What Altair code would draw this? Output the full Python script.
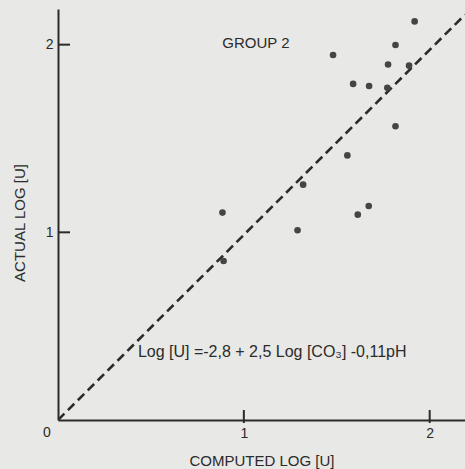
import altair as alt
import pandas as pd

# computed log [U] (x) vs actual log [U] (y)
computed = [1.919, 1.816, 1.480, 1.776, 1.889, 1.588, 1.674, 1.772,
            1.816, 1.557, 1.319, 0.885, 1.672, 1.613, 1.289, 0.891]
actual = [2.124, 1.998, 1.945, 1.894, 1.888, 1.791, 1.780, 1.770,
          1.565, 1.410, 1.254, 1.105, 1.140, 1.094, 1.011, 0.847]

line_x = [0.0, 2.19]
line_y = [0.0, 2.16]

tick_values = [1, 2]

group_label = "GROUP 2"
equation = "Log [U] =-2,8 + 2,5  Log [CO₃] -0,11pH"

W, H = 407, 411
FONT = "Liberation Sans"
INK = "#2b2b2b"

pts = pd.DataFrame({"x": computed, "y": actual})
line_df = pd.DataFrame({"x": line_x, "y": line_y})
ticks_df = pd.DataFrame({"v": tick_values})

xs = alt.Scale(domain=[0, 2.19], nice=False, zero=False)
ys = alt.Scale(domain=[0, 2.19], nice=False, zero=False)

xaxis = alt.Axis(values=tick_values, format="d", ticks=False, grid=False,
                 domainColor=INK, domainWidth=2, labelFont=FONT, labelFontSize=14,
                 labelColor=INK, labelPadding=6, title="COMPUTED LOG [U]",
                 titleFont=FONT, titleFontSize=15, titleFontWeight="normal",
                 titleColor=INK, titleX=W / 2, titleY=40, titleBaseline="middle")
yaxis = alt.Axis(values=tick_values, format="d", ticks=False, grid=False,
                 domainColor=INK, domainWidth=2, labelFont=FONT, labelFontSize=14,
                 labelColor=INK, labelPadding=5, title="ACTUAL LOG [U]",
                 titleFont=FONT, titleFontSize=15, titleFontWeight="normal",
                 titleColor=INK, titleX=-39, titleY=H / 2 + 8, titleBaseline="middle")

points = alt.Chart(pts).mark_point(filled=True, size=44, color="#454545", opacity=1).encode(
    x=alt.X("x:Q", scale=xs, axis=xaxis),
    y=alt.Y("y:Q", scale=ys, axis=yaxis),
)

dashed = alt.Chart(line_df).mark_line(color=INK, strokeWidth=2.6, strokeDash=[9, 5], clip=True).encode(
    x=alt.X("x:Q", scale=xs),
    y=alt.Y("y:Q", scale=ys),
)

yticks = alt.Chart(ticks_df).mark_rule(color=INK, strokeWidth=2).encode(
    y=alt.Y("v:Q", scale=ys),
    x=alt.value(0),
    x2=alt.value(12),
)
xticks = alt.Chart(ticks_df).mark_rule(color=INK, strokeWidth=2).encode(
    x=alt.X("v:Q", scale=xs),
    y=alt.value(H - 10),
    y2=alt.value(H + 3),
)

zero_label = alt.Chart(pd.DataFrame({"x": [0], "y": [0], "t": ["0"]})).mark_text(
    font=FONT, fontSize=14, color=INK, dx=-11, dy=13, baseline="middle"
).encode(x=alt.X("x:Q", scale=xs), y=alt.Y("y:Q", scale=ys), text="t:N")

group_text = alt.Chart(pd.DataFrame({"x": [1.065], "y": [2.01], "t": [group_label]})).mark_text(
    font=FONT, fontSize=15, color=INK, baseline="middle", align="center"
).encode(x=alt.X("x:Q", scale=xs), y=alt.Y("y:Q", scale=ys), text="t:N")

eq_text = alt.Chart(pd.DataFrame({"x": [0.43], "y": [0.362], "t": [equation]})).mark_text(
    font=FONT, fontSize=16, color=INK, baseline="middle", align="left"
).encode(x=alt.X("x:Q", scale=xs), y=alt.Y("y:Q", scale=ys), text="t:N")

chart = alt.layer(dashed, points, yticks, xticks, zero_label, group_text, eq_text).properties(
    width=W, height=H,
    autosize=alt.AutoSizeParams(type="none"),
    padding={"left": 58, "top": 9, "right": 0, "bottom": 49},
    background="#e8e8e6",
).configure_view(stroke=None)

chart.save("out.html", embed_options={"renderer": "svg", "actions": False})
